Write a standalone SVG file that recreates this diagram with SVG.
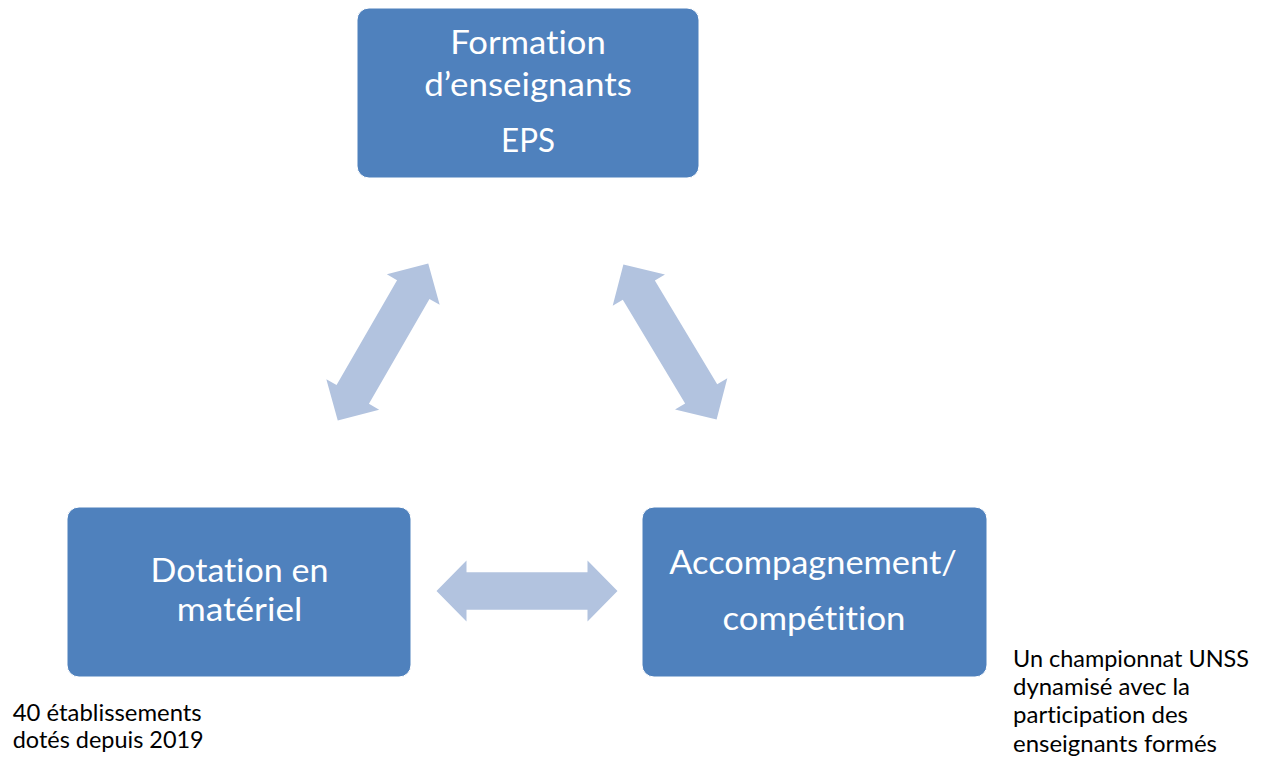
<svg xmlns="http://www.w3.org/2000/svg" width="1261" height="762" viewBox="0 0 1261 762">
  <style>
    text { font-variant-ligatures: none; font-feature-settings: "liga" 0, "dlig" 0, "clig" 0; }
    .box { fill: #4F81BD; stroke: #ffffff; stroke-width: 1; }
    .lbl { font-family: Lato, "Liberation Sans", sans-serif; font-size: 32px; fill: #ffffff; text-anchor: middle; }
    .note { font-family: Lato, "Liberation Sans", sans-serif; font-size: 22.5px; fill: #000000; }
    .arr { fill: #B2C3DF; }
  </style>
  <defs>
    <polygon id="dblArrow" points="-90.5,0 -60.5,-30.5 -60.5,-18.7 60.5,-18.7 60.5,-30.5 90.5,0 60.5,30.5 60.5,18.7 -60.5,18.7 -60.5,30.5"/>
  </defs>
  <rect width="1261" height="762" fill="#ffffff"/>
  <g id="connectors">
    <use href="#dblArrow" class="arr" transform="translate(383,342) rotate(-60)"/>
    <use href="#dblArrow" class="arr" transform="translate(670,342) rotate(59)"/>
    <use href="#dblArrow" class="arr" transform="translate(527,591)"/>
  </g>
  <g id="node-formation">
    <rect class="box" x="357" y="8" width="342" height="170" rx="12"/>
    <text class="lbl" x="528" y="54" textLength="155.6" lengthAdjust="spacingAndGlyphs">Formation</text>
    <text class="lbl" x="528" y="95.5" textLength="207.6" lengthAdjust="spacingAndGlyphs">d’enseignants</text>
    <text class="lbl" x="528" y="152" textLength="53.9" lengthAdjust="spacingAndGlyphs">EPS</text>
  </g>
  <g id="node-dotation">
    <rect class="box" x="67" y="507" width="344" height="170" rx="12"/>
    <text class="lbl" x="239.5" y="582" textLength="178" lengthAdjust="spacingAndGlyphs">Dotation en</text>
    <text class="lbl" x="239.5" y="621" textLength="125.7" lengthAdjust="spacingAndGlyphs">matériel</text>
  </g>
  <g id="node-accompagnement">
    <rect class="box" x="642" y="507" width="345" height="170" rx="12"/>
    <text class="lbl" x="813" y="574" textLength="287.5" lengthAdjust="spacingAndGlyphs">Accompagnement/</text>
    <text class="lbl" x="814" y="629.5" textLength="183" lengthAdjust="spacingAndGlyphs">compétition</text>
  </g>
  <g id="note-left">
    <text class="note" x="12.7" y="721" textLength="189" lengthAdjust="spacingAndGlyphs">40 établissements</text>
    <text class="note" x="12.7" y="748.3" textLength="191" lengthAdjust="spacingAndGlyphs">dotés depuis 2019</text>
  </g>
  <g id="note-right">
    <text class="note" x="1013" y="666.7" textLength="236" lengthAdjust="spacingAndGlyphs">Un championnat UNSS</text>
    <text class="note" x="1013" y="695" textLength="177" lengthAdjust="spacingAndGlyphs">dynamisé avec la</text>
    <text class="note" x="1013" y="723.3" textLength="175" lengthAdjust="spacingAndGlyphs">participation des</text>
    <text class="note" x="1013" y="751.7" textLength="204" lengthAdjust="spacingAndGlyphs">enseignants formés</text>
  </g>
</svg>
